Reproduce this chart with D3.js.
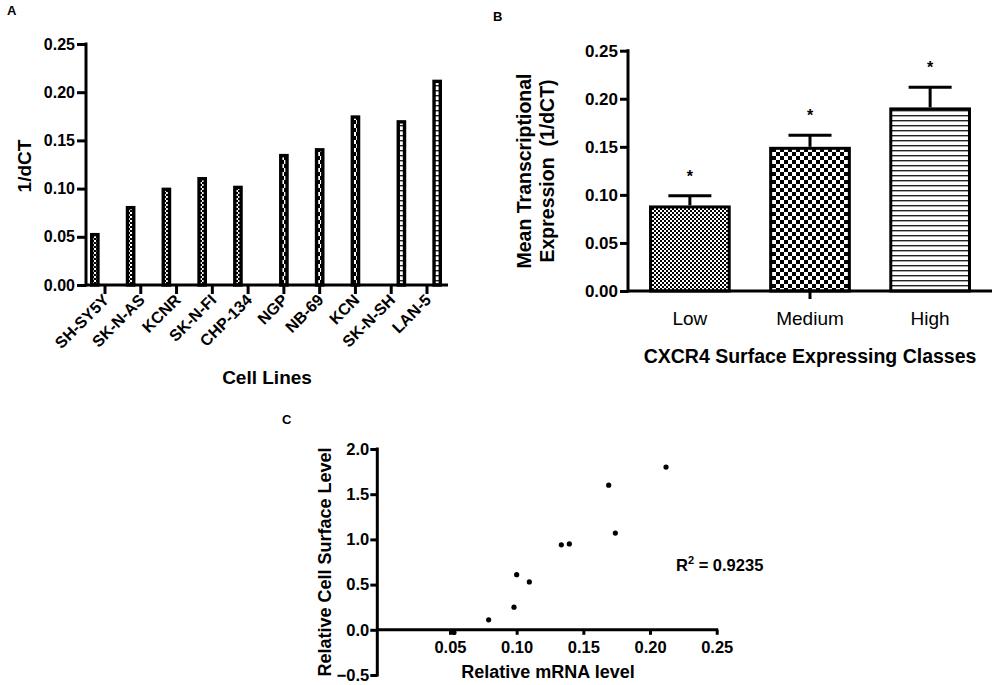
<!DOCTYPE html>
<html>
<head>
<meta charset="utf-8">
<script src="https://cdn.jsdelivr.net/npm/d3@7"></script>
<style>
  html, body { margin: 0; padding: 0; background: #fff; }
  svg { display: block; font-family: "Liberation Sans", Arial, sans-serif; }
</style>
</head>
<body>
<svg id="chart" width="1005" height="685"></svg>
<script>
// ---------------- DATA ----------------
const cellLines = ["SH-SY5Y", "SK-N-AS", "KCNR", "SK-N-FI", "CHP-134", "NGP", "NB-69", "KCN", "SK-N-SH", "LAN-5"];
const mrnaValues = [0.054, 0.082, 0.101, 0.112, 0.103, 0.136, 0.142, 0.176, 0.171, 0.213];
const lineClass = ["Low", "Low", "Low", "Low", "Low", "Medium", "Medium", "Medium", "High", "High"];

const classes = ["Low", "Medium", "High"];
const classMeans = [0.089, 0.150, 0.191];
const classErrors = [0.010, 0.012, 0.021];

const scatterX = [0.053, 0.079, 0.098, 0.100, 0.1095, 0.1335, 0.1395, 0.169, 0.174, 0.212];
const scatterY = [-0.03, 0.11, 0.25, 0.61, 0.53, 0.94, 0.95, 1.60, 1.07, 1.80];

const barTicks = [0.00, 0.05, 0.10, 0.15, 0.20, 0.25];
const scatterXTicks = [0.05, 0.10, 0.15, 0.20, 0.25];
const scatterYTicks = [-0.5, 0.0, 0.5, 1.0, 1.5, 2.0];
const r2Value = "0.9235";

// ---------------- SETUP ----------------
const svg = d3.select("#chart");
const defs = svg.append("defs");

// patterns
const pLow = defs.append("pattern").attr("id", "pat-Low").attr("patternUnits", "userSpaceOnUse")
  .attr("width", 4).attr("height", 4);
pLow.append("rect").attr("width", 4).attr("height", 4).attr("fill", "#fff");
pLow.append("rect").attr("width", 2).attr("height", 2).attr("fill", "#000");
pLow.append("rect").attr("x", 2).attr("y", 2).attr("width", 2).attr("height", 2).attr("fill", "#000");

const pMed = defs.append("pattern").attr("id", "pat-Medium").attr("patternUnits", "userSpaceOnUse")
  .attr("width", 8).attr("height", 8);
pMed.append("rect").attr("width", 8).attr("height", 8).attr("fill", "#fff");
pMed.append("rect").attr("width", 4).attr("height", 4).attr("fill", "#000");
pMed.append("rect").attr("x", 4).attr("y", 4).attr("width", 4).attr("height", 4).attr("fill", "#000");

const pHigh = defs.append("pattern").attr("id", "pat-High").attr("patternUnits", "userSpaceOnUse")
  .attr("width", 5).attr("height", 5);
pHigh.append("rect").attr("width", 5).attr("height", 5).attr("fill", "#fff");
pHigh.append("rect").attr("y", 0).attr("width", 5).attr("height", 1.4).attr("fill", "#222");

const fmt2 = d3.format(".2f");
const fmt1 = d3.format(".1f");

function styleAxis(g, fontSize) {
  g.select(".domain").remove();
  g.selectAll(".tick line").attr("stroke", "#000").attr("stroke-width", 3);
  g.selectAll(".tick text").attr("fill", "#000").attr("font-weight", "bold")
    .attr("font-size", fontSize).attr("font-family", "Liberation Sans, Arial, sans-serif");
}

// ================= PANEL A =================
{
  const g = svg.append("g");
  const y = d3.scaleLinear().domain([0, 0.25]).range([285, 44]);
  const x = d3.scalePoint().domain(cellLines).range([105, 427]);
  const x1 = d3.scaleBand().domain(classes).range([-15, 15]).paddingInner(0.05);
  const axisX0 = 86, axisX1 = 448;

  // bars
  g.selectAll("rect.bar").data(cellLines).enter().append("rect")
    .attr("class", "bar")
    .attr("x", (d, i) => x(d) + x1(lineClass[i]) + 1.7)
    .attr("width", x1.bandwidth() - 3.4)
    .attr("y", (d, i) => y(mrnaValues[i]) + 1.7)
    .attr("height", (d, i) => y(0) - y(mrnaValues[i]) - 1.7)
    .attr("fill", (d, i) => `url(#pat-${lineClass[i]})`)
    .attr("stroke", "#000").attr("stroke-width", 3.4);

  // y axis
  const ya = g.append("g").attr("transform", `translate(${axisX0},0)`)
    .call(d3.axisLeft(y).tickValues(barTicks).tickFormat(fmt2).tickSize(9).tickPadding(2));
  styleAxis(ya, 16);
  g.append("line").attr("x1", axisX0).attr("x2", axisX0).attr("y1", y(0.25) - 1.5).attr("y2", y(0) + 1.5)
    .attr("stroke", "#000").attr("stroke-width", 3);

  // x axis
  g.append("line").attr("x1", axisX0).attr("x2", axisX1).attr("y1", y(0)).attr("y2", y(0))
    .attr("stroke", "#000").attr("stroke-width", 3);
  g.selectAll("line.xt").data(cellLines).enter().append("line")
    .attr("x1", d => x(d)).attr("x2", d => x(d)).attr("y1", y(0)).attr("y2", y(0) + 9)
    .attr("stroke", "#000").attr("stroke-width", 3);
  g.selectAll("text.xl").data(cellLines).enter().append("text")
    .attr("transform", d => `translate(${x(d) + 5},${y(0) + 16}) rotate(-45)`)
    .attr("text-anchor", "end")
    .attr("font-weight", "bold").attr("font-size", 16)
    .text(d => d);

  g.append("text").attr("x", 267).attr("y", 384).attr("text-anchor", "middle")
    .attr("font-weight", "bold").attr("font-size", 19).text("Cell Lines");
  g.append("text").attr("transform", `translate(31,166) rotate(-90)`).attr("text-anchor", "middle")
    .attr("font-weight", "bold").attr("font-size", 19).text("1/dCT");
  g.append("text").attr("x", 7).attr("y", 15).attr("font-weight", "bold").attr("font-size", 13).text("A");
}

// ================= PANEL B =================
{
  const g = svg.append("g");
  const y = d3.scaleLinear().domain([0, 0.25]).range([291, 50.7]);
  const x = d3.scaleBand().domain(classes).range([628, 992]).paddingInner(0.32).paddingOuter(0.175);

  // error bars (upper only)
  g.selectAll("line.err").data(classes).enter().append("line")
    .attr("x1", d => x(d) + x.bandwidth() / 2).attr("x2", d => x(d) + x.bandwidth() / 2)
    .attr("y1", (d, i) => y(classMeans[i])).attr("y2", (d, i) => y(classMeans[i] + classErrors[i]))
    .attr("stroke", "#000").attr("stroke-width", 3);
  g.selectAll("line.cap").data(classes).enter().append("line")
    .attr("x1", d => x(d) + x.bandwidth() / 2 - 21.5).attr("x2", d => x(d) + x.bandwidth() / 2 + 21.5)
    .attr("y1", (d, i) => y(classMeans[i] + classErrors[i])).attr("y2", (d, i) => y(classMeans[i] + classErrors[i]))
    .attr("stroke", "#000").attr("stroke-width", 3);

  // bars
  g.selectAll("rect.bar").data(classes).enter().append("rect")
    .attr("x", d => x(d) + 1.5)
    .attr("width", x.bandwidth() - 3)
    .attr("y", (d, i) => y(classMeans[i]) + 1.5)
    .attr("height", (d, i) => y(0) - y(classMeans[i]) - 1.5)
    .attr("fill", d => `url(#pat-${d})`)
    .attr("stroke", "#000").attr("stroke-width", 3);

  // asterisks
  g.selectAll("text.ast").data(classes).enter().append("text")
    .attr("x", d => x(d) + x.bandwidth() / 2)
    .attr("y", (d, i) => y(classMeans[i] + classErrors[i]) - 14)
    .attr("text-anchor", "middle").attr("font-weight", "bold").attr("font-size", 16).text("*");

  // y axis
  const ya = g.append("g").attr("transform", `translate(628,0)`)
    .call(d3.axisLeft(y).tickValues(barTicks).tickFormat(fmt2).tickSize(8).tickPadding(2));
  styleAxis(ya, 17);
  g.append("line").attr("x1", 628).attr("x2", 628).attr("y1", y(0.25) - 1.5).attr("y2", y(0) + 1.5)
    .attr("stroke", "#000").attr("stroke-width", 3);

  // x axis
  g.append("line").attr("x1", 628).attr("x2", 992).attr("y1", y(0)).attr("y2", y(0))
    .attr("stroke", "#000").attr("stroke-width", 3);
  const mid = (x.range()[0] + x.range()[1]) / 2;
  g.append("line").attr("x1", mid).attr("x2", mid).attr("y1", y(0)).attr("y2", y(0) + 8)
    .attr("stroke", "#000").attr("stroke-width", 3);
  g.selectAll("text.xl").data(classes).enter().append("text")
    .attr("x", d => x(d) + x.bandwidth() / 2).attr("y", 325)
    .attr("text-anchor", "middle").attr("font-size", 19).text(d => d);

  g.append("text").attr("x", 810).attr("y", 363).attr("text-anchor", "middle")
    .attr("font-weight", "bold").attr("font-size", 19.5).text("CXCR4 Surface Expressing Classes");
  const yt = g.append("text").attr("transform", `translate(0,171) rotate(-90)`).attr("text-anchor", "middle")
    .attr("font-weight", "bold").attr("font-size", 19.5);
  yt.append("tspan").attr("x", 0).attr("y", 531).text("Mean Transcriptional");
  yt.append("tspan").attr("x", 0).attr("y", 554).attr("xml:space", "preserve").text("Expression  (1/dCT)");
  g.append("text").attr("x", 493).attr("y", 21).attr("font-weight", "bold").attr("font-size", 13).text("B");
}

// ================= PANEL C =================
{
  const g = svg.append("g");
  const x = d3.scaleLinear().domain([-0.0045, 0.25]).range([377.3, 716.7]);
  const y = d3.scaleLinear().domain([-0.5, 2.0]).range([675, 449]);

  // y axis
  const ya = g.append("g").attr("transform", `translate(${x(-0.0045)},0)`)
    .call(d3.axisLeft(y).tickValues(scatterYTicks).tickFormat(fmt1).tickSize(7).tickPadding(1));
  styleAxis(ya, 16.5);
  g.append("line").attr("x1", x(-0.0045)).attr("x2", x(-0.0045)).attr("y1", y(2.0) - 1.5).attr("y2", y(-0.5) + 1.5)
    .attr("stroke", "#000").attr("stroke-width", 3);

  // x axis at y = 0
  const xa = g.append("g").attr("transform", `translate(0,${y(0)})`)
    .call(d3.axisBottom(x).tickValues(scatterXTicks).tickFormat(fmt2).tickSize(5).tickPadding(6));
  styleAxis(xa, 16.5);
  g.append("line").attr("x1", x(-0.0045)).attr("x2", x(0.25) + 1.5).attr("y1", y(0)).attr("y2", y(0))
    .attr("stroke", "#000").attr("stroke-width", 3);

  // points
  g.selectAll("circle").data(scatterX).enter().append("circle")
    .attr("cx", d => x(d)).attr("cy", (d, i) => y(scatterY[i])).attr("r", 2.6).attr("fill", "#000");

  // R^2
  const rt = g.append("text").attr("x", 676).attr("y", 571).attr("font-weight", "bold").attr("font-size", 16.5);
  rt.append("tspan").text("R");
  rt.append("tspan").attr("dy", -7).attr("font-size", 11).text("2");
  rt.append("tspan").attr("dy", 7).attr("xml:space", "preserve").text(" = " + r2Value);

  g.append("text").attr("x", 548).attr("y", 678).attr("text-anchor", "middle")
    .attr("font-weight", "bold").attr("font-size", 18).text("Relative mRNA level");
  g.append("text").attr("transform", `translate(331,562) rotate(-90)`).attr("text-anchor", "middle")
    .attr("font-weight", "bold").attr("font-size", 18).text("Relative Cell Surface Level");
  g.append("text").attr("x", 282).attr("y", 424).attr("font-weight", "bold").attr("font-size", 13).text("C");
}
</script>
</body>
</html>
